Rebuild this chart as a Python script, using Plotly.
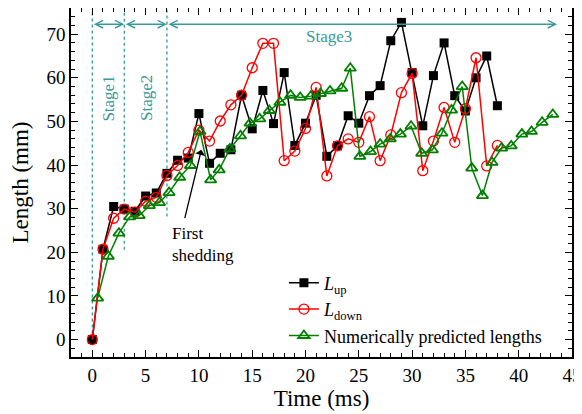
import plotly.graph_objects as go

# ---------------- data ----------------
t_exp = list(range(0, 39))
L_up = [0, 20.7, 30.5, 29.9, 29.4, 32.9, 33.6, 38.1, 41.1, 41.6,
        51.8, 40.4, 42.7, 43.5, 56.0, 48.3, 57.1, 49.5, 61.2, 44.5,
        49.6, 56.0, 42.0, 44.4, 51.3, 49.6, 55.9, 58.2, 68.5, 72.7,
        61.2, 49.0, 60.5, 68.0, 55.9, 52.4, 60.0, 65.0, 53.6]
L_down = [0, 20.7, 27.8, 29.9, 29.2, 31.7, 32.6, 37.6, 39.9, 42.9,
          48.0, 45.5, 50.1, 53.8, 56.0, 62.3, 67.9, 67.9, 41.0, 43.2,
          48.4, 57.8, 37.5, 44.4, 46.0, 45.2, 51.1, 41.0, 46.9, 56.6,
          61.0, 38.7, 45.5, 53.2, 45.2, 52.9, 64.6, 39.8, 44.5]
t_num = [0.5, 1.5, 2.5, 3.5, 4.4, 5.35, 6.3, 7.2, 8.2, 9.2,
         10.1, 11.1, 11.9, 12.9, 13.9, 14.8, 15.7, 16.6, 17.6, 18.6,
         19.5, 20.5, 21.4, 22.3, 23.4, 24.2, 25.1, 26.1, 27.0, 27.95,
         28.9, 29.9, 30.9, 31.9, 32.8, 33.7, 34.7, 35.6, 36.6, 37.5,
         38.4, 39.3, 40.3, 41.2, 42.2, 43.2]
L_num = [9.5, 19.1, 24.4, 28.1, 28.4, 30.7, 31.4, 33.7, 37.2, 39.9,
         47.7, 36.6, 38.9, 43.7, 46.7, 49.6, 50.6, 52.5, 54.4, 56.0,
         55.5, 55.8, 56.4, 57.0, 57.6, 62.2, 42.0, 43.1, 44.8, 46.0,
         47.1, 48.9, 42.7, 43.5, 47.3, 52.6, 58.0, 39.3, 33.0, 40.6,
         43.9, 44.4, 47.1, 47.7, 49.8, 51.6]

stage_bounds = [0, 3, 7, 43.6]        # ms
stage_line_bottom = [0, 20.6, 28.2]   # mm, bottom of dotted boundary lines
stage_names = ["Stage1", "Stage2", "Stage3"]
arrow_level = 72.3
shed_tip = (10.23, 43.5)
shed_tail = (8.64, 27.5)

FONT = "Liberation Serif"
TEAL = "#3a9a9a"

fig = go.Figure()
fig.add_trace(go.Scatter(x=t_exp, y=L_up, mode="lines+markers", name="<i>L</i><sub>up</sub>",
                         line=dict(color="black", width=1.5),
                         marker=dict(symbol="square", size=9, color="black")))
fig.add_trace(go.Scatter(x=t_exp, y=L_down, mode="lines+markers", name="<i>L</i><sub>down</sub>",
                         line=dict(color="red", width=1.5),
                         marker=dict(symbol="circle-open", size=10, color="red", line=dict(width=1.3))))
fig.add_trace(go.Scatter(x=t_num, y=L_num, mode="lines+markers", name="Numerically predicted lengths",
                         line=dict(color="green", width=1.5),
                         marker=dict(symbol="triangle-up-open", size=10, color="green", line=dict(width=1.8))))

# stage boundary dotted lines
for b, yb in zip(stage_bounds[:3], stage_line_bottom):
    fig.add_shape(type="line", x0=b, x1=b, y0=yb, y1=75.6, xref="x", yref="y",
                  line=dict(color=TEAL, width=1.3, dash="dot"), layer="below")

# double arrows
for a, b in zip(stage_bounds[:-1], stage_bounds[1:]):
    fig.add_annotation(x=b, y=arrow_level, ax=a, ay=arrow_level, xref="x", yref="y",
                       axref="x", ayref="y", text="", showarrow=True,
                       arrowside="end+start", arrowhead=5, startarrowhead=5,
                       arrowsize=1.0, startarrowsize=1.0, arrowwidth=1.5,
                       arrowcolor=TEAL, standoff=0, startstandoff=0)

# stage labels
fig.add_annotation(x=1.5, y=55.3, text=stage_names[0], textangle=-90, showarrow=False,
                   font=dict(family=FONT, size=17, color=TEAL))
fig.add_annotation(x=5.1, y=55.3, text=stage_names[1], textangle=-90, showarrow=False,
                   font=dict(family=FONT, size=17, color=TEAL))
fig.add_annotation(x=22.2, y=69.4, text=stage_names[2], showarrow=False,
                   font=dict(family=FONT, size=17, color=TEAL))

# first shedding
fig.add_annotation(x=shed_tip[0], y=shed_tip[1], ax=shed_tail[0], ay=shed_tail[1],
                   xref="x", yref="y", axref="x", ayref="y", text="", showarrow=True,
                   arrowhead=1, arrowsize=1.3, arrowwidth=1.3, arrowcolor="black", standoff=0)
fig.add_annotation(x=7.3, y=21.8, text="First<br>shedding", showarrow=False, xanchor="left",
                   align="left", font=dict(family=FONT, size=17, color="black"))

axis_common = dict(showline=True, linecolor="black", linewidth=1.5, mirror="ticks",
                   ticks="inside", ticklen=7, tickwidth=1.2, tickcolor="black",
                   showgrid=False, zeroline=False, automargin=False,
                   tickfont=dict(family=FONT, size=19, color="black"))
fig.update_xaxes(range=[-2, 45], dtick=5, tick0=0,
                 minor=dict(dtick=1, ticks="inside", ticklen=4, tickcolor="black", tickwidth=1),
                 title=dict(text="Time (ms)", font=dict(family=FONT, size=23, color="black"), standoff=4),
                 **axis_common)
fig.update_yaxes(range=[-4, 76], dtick=10, tick0=0,
                 minor=dict(dtick=2, ticks="inside", ticklen=4, tickcolor="black", tickwidth=1),
                 title=dict(text="Length (mm)", font=dict(family=FONT, size=23, color="black"), standoff=14),
                 **axis_common)

# page body has an 8px default margin, so the figure is sized to fit the window
fig.update_layout(width=574, height=406, margin=dict(l=63, r=10, t=0, b=57),
                  plot_bgcolor="white", paper_bgcolor="white",
                  font=dict(family=FONT, color="black"),
                  legend=dict(x=0.425, y=0.265, xanchor="left", yanchor="top",
                              bgcolor="rgba(0,0,0,0)", font=dict(family=FONT, size=18),
                              tracegroupgap=0, itemwidth=30),
                  showlegend=True)

fig.write_html("out.html")
